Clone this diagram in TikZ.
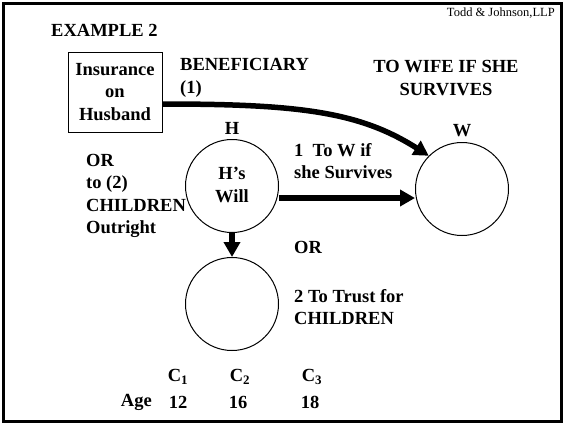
\documentclass[tikz,border=0pt]{standalone}
\usepackage{fontspec}
\setmainfont{Liberation Serif}
\usetikzlibrary{arrows.meta}
\tikzset{
  lbl/.style={font=\fontsize{18.5}{22.5}\selectfont\bfseries, inner sep=0pt, align=left},
  clbl/.style={font=\fontsize{18.5}{22.5}\selectfont\bfseries, inner sep=0pt, align=center},
  person/.style={circle, draw, line width=1pt, minimum size=93pt, inner sep=0pt},
  fat/.style={line width=5.5pt, -{Triangle[length=15pt, width=16pt]}},
}
\begin{document}
\begin{tikzpicture}[x=1pt, y=-1pt]
  \useasboundingbox (0,0) rectangle (564,424);
  % page frame
  \draw[line width=3pt] (3,3) rectangle (561,421);
  \node[font=\fontsize{12.5}{14}\selectfont, inner sep=0pt, anchor=east] (firm) at (555,13) {Todd \& Johnson,LLP};
  \node[lbl, anchor=west] (title) at (51,30) {EXAMPLE 2};

  % insurance policy
  \node[clbl, draw, line width=1pt, minimum width=94pt, minimum height=80pt] (ins) at (115,92) {Insurance\\on\\Husband};

  % people
  \node[person] (h) at (232,186) {};
  \node[clbl] (hwill) at (232,185) {H’s\\Will};
  \node[clbl] (hname) at (232,128) {H};
  \node[person] (w) at (462,189) {};
  \node[clbl] (wname) at (462,131) {W};
  \node[person] (t) at (232,304) {};

  % labels
  \node[lbl, anchor=west] (benef) at (180,78) {BENEFICIARY\\(1)};
  \node[clbl] (wife) at (446,78) {TO WIFE IF SHE\\SURVIVES};
  \node[lbl, anchor=west] (orch) at (86,196) {OR\\to (2)\\CHILDREN\\Outright};
  \node[lbl, anchor=west] (tow) at (294,161) {1\ \ To W if\\she Survives};
  \node[lbl, anchor=west] (or2) at (294,247) {OR};
  \node[lbl, anchor=west] (trust) at (294,307) {2 To Trust for\\CHILDREN};

  % children and ages
  \node[clbl] (c1) at (178,377) {C\textsubscript{1}};
  \node[clbl] (c2) at (240,377) {C\textsubscript{2}};
  \node[clbl] (c3) at (312,377) {C\textsubscript{3}};
  \node[lbl, anchor=east] (age) at (152,402) {Age};
  \node[clbl] (a1) at (178,402) {12};
  \node[clbl] (a2) at (238,402) {16};
  \node[clbl] (a3) at (310,402) {18};

  % flows
  \coordinate (insout) at (ins.east |- 0,104);
  \draw[fat] (insout) .. controls (300,104) and (360,112) .. (w.135);
  \draw[fat] (h.east |- 0,198) -- (w.west |- 0,198);
  \draw[fat] (h.south) -- (t.north);
\end{tikzpicture}
\end{document}
